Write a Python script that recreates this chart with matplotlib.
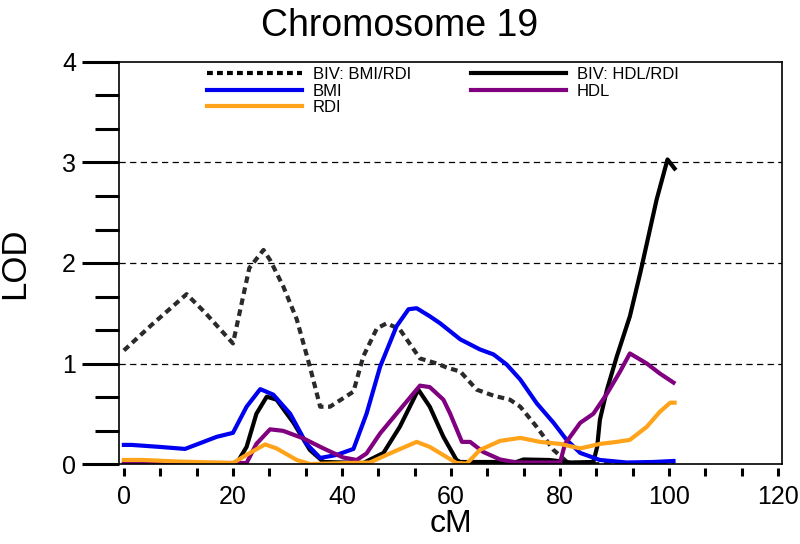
import matplotlib
matplotlib.use("Agg")
import matplotlib.pyplot as plt
from matplotlib.lines import Line2D
from matplotlib.ticker import MultipleLocator

plt.rcParams['font.family'] = ['Liberation Sans', 'DejaVu Sans']

title = "Chromosome 19"
xlabel = "cM"
ylabel = "LOD"

biv_bmi_rdi_x = [0, 5, 11.5, 15, 20, 21, 23, 25.6, 26.8, 29.2, 31.7, 34.1, 36, 37.8, 42.1, 43.9, 46.4,
                 48.2, 50.6, 54.3, 57.4, 59.2, 61.7, 64.7, 67.8, 70.8, 72.7, 75.7, 78.8, 81.5, 85, 95, 101]
biv_bmi_rdi_y = [1.13, 1.38, 1.69, 1.5, 1.2, 1.45, 1.95, 2.13, 2.03, 1.77, 1.44, 0.97, 0.57, 0.57, 0.72, 1.07, 1.35,
                 1.40, 1.34, 1.05, 1.0, 0.96, 0.92, 0.74, 0.68, 0.64, 0.57, 0.37, 0.14, 0.01, 0.0, 0.0, 0.02]

bmi_x = [0, 1.4, 6.6, 11.2, 14.6, 17, 20, 22.5, 25, 27.4, 30.5, 33.5, 36, 39, 42.1, 44.5, 47, 50, 52.2, 53.7,
         56.1, 58, 61.7, 65.3, 67.8, 70.2, 72.7, 75.7, 78.8, 81.2, 83.7, 87.3, 92.2, 97.1, 100.8]
bmi_y = [0.19, 0.19, 0.17, 0.15, 0.22, 0.27, 0.31, 0.57, 0.745, 0.69, 0.5, 0.2, 0.06, 0.09, 0.15, 0.5, 0.97, 1.37,
         1.54, 1.55, 1.47, 1.40, 1.24, 1.14, 1.09, 0.99, 0.84, 0.605, 0.41, 0.24, 0.11, 0.04, 0.015, 0.02, 0.03]

rdi_x = [0, 3.5, 9.7, 20, 23.1, 25.9, 28, 31.7, 34.1, 45.1, 49.4, 53.7, 56.1, 61, 62.9, 65.3, 69, 72.7,
         76.3, 80, 83.7, 87.3, 90.4, 92.8, 95.9, 98.3, 100.2, 101]
rdi_y = [0.04, 0.04, 0.025, 0.01, 0.11, 0.195, 0.155, 0.04, 0.0, 0.015, 0.12, 0.22, 0.17, 0.01, 0.005, 0.14, 0.23, 0.26,
         0.22, 0.2, 0.155, 0.2, 0.22, 0.24, 0.37, 0.52, 0.61, 0.61]

biv_hdl_rdi_x = [0, 20.6, 22.5, 24.3, 26.2, 28, 31.1, 34.1, 36.6, 43.9, 47.6, 50.6, 54, 56.1, 58.6, 61, 61.7,
                 72, 73.3, 78, 82, 86.1, 86.8, 87.3, 88.6, 90.4, 91.6, 92.8, 94.7, 97.7, 99.7, 101]
biv_hdl_rdi_y = [0.0, 0.0, 0.17, 0.5, 0.67, 0.64, 0.41, 0.14, 0.02, 0.01, 0.11, 0.37, 0.74, 0.57, 0.27, 0.04, 0.02,
                 0.02, 0.045, 0.04, 0.015, 0.02, 0.17, 0.44, 0.74, 1.07, 1.27, 1.47, 1.9, 2.63, 3.03, 2.94]

hdl_x = [0, 22.5, 24.3, 26.8, 29.2, 32.9, 36.6, 40.2, 42.7, 44.5, 47, 50.6, 54.3, 56.1, 58.6, 59.8, 62, 63.5,
         65.9, 69, 72, 80, 80.9, 83.7, 86.1, 88.6, 91, 92.8, 95.9, 98.3, 100.8]
hdl_y = [0.01, 0.01, 0.2, 0.345, 0.33, 0.255, 0.155, 0.065, 0.04, 0.105, 0.305, 0.54, 0.78, 0.765, 0.64, 0.505, 0.22, 0.22,
         0.12, 0.045, 0.015, 0.015, 0.2, 0.41, 0.5, 0.7, 0.92, 1.10, 1.0, 0.9, 0.81]

thresholds = [1, 2, 3]

fig = plt.figure(figsize=(8, 5.44), dpi=100)
ax = fig.add_axes([119/800, 1-464/544, (782-119)/800, (464-62)/544])
ax.set_xlim(-0.9, 120.7)
ax.set_ylim(0, 4)

for t in thresholds:
    ax.axhline(t, color='black', lw=0.9, ls=(0, (5, 3.5)), zorder=1)

lw = 3.0
l1, = ax.plot(biv_bmi_rdi_x, biv_bmi_rdi_y, color='#2a2a2a', lw=lw, ls=(0, (1.6, 1.1)), zorder=2,
              label='BIV: BMI/RDI')
l4, = ax.plot(biv_hdl_rdi_x, biv_hdl_rdi_y, color='black', lw=lw, zorder=3, label='BIV: HDL/RDI')
l2, = ax.plot(bmi_x, bmi_y, color='#0000f0', lw=lw, zorder=4, label='BMI')
l5, = ax.plot(hdl_x, hdl_y, color='#800080', lw=lw, zorder=5, label='HDL')
l3, = ax.plot(rdi_x, rdi_y, color='#ffa31a', lw=lw, zorder=6, label='RDI')

leg_l1 = Line2D([], [], color='black', lw=lw, ls=(0, (1.4, 1.0)))
ax.legend([leg_l1, l2, l3, l4, l5], ['BIV: BMI/RDI', 'BMI', 'RDI', 'BIV: HDL/RDI', 'HDL'],
          ncol=2, frameon=False, loc='upper left', bbox_to_anchor=(0.11, 1.025),
          fontsize=12, handlelength=5.7, handletextpad=0.65, labelspacing=0.1,
          columnspacing=3.6)

# spines
for s in ax.spines.values():
    s.set_linewidth(1.2)
ax.spines['bottom'].set_position(('outward', 3))
ax.spines['bottom'].set_visible(False)
ax.plot([0, 1], [0, 0], transform=ax.transAxes, color='black', lw=1.2, clip_on=False, zorder=10)

ax.xaxis.set_major_locator(MultipleLocator(20))
ax.xaxis.set_minor_locator(MultipleLocator(20/3))
ax.yaxis.set_major_locator(MultipleLocator(1))
ax.yaxis.set_minor_locator(MultipleLocator(1/3))
ax.tick_params(axis='x', which='both', direction='out', length=6, width=2.2, labelsize=18, pad=6)
ax.tick_params(axis='y', which='major', direction='out', length=27, width=2.2, labelsize=18, pad=4)
ax.tick_params(axis='y', which='minor', direction='out', length=17, width=2.2)

ax.set_xlabel(xlabel, fontsize=23, labelpad=0)
ax.set_ylabel(ylabel, fontsize=25, labelpad=22)
fig.text(0.5, 1-36/544, title, ha='center', va='baseline', fontsize=27)

fig.savefig('out.png', dpi=100)
